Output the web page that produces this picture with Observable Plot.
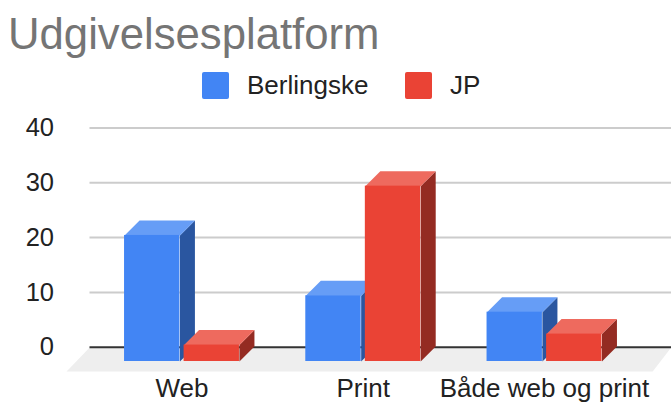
<!DOCTYPE html>
<html><head><meta charset="utf-8">
<script src="https://cdn.jsdelivr.net/npm/d3@7"></script>
<script src="https://cdn.jsdelivr.net/npm/@observablehq/plot@0.6"></script>
<style>
html,body{margin:0;padding:0;background:#fff;overflow:hidden}
body{width:671px;height:407px;font-family:"Liberation Sans",Arial,sans-serif}
#head{position:relative;height:104px}
#title{position:absolute;left:8px;top:9px;font-size:43.7px;line-height:50px;color:#757575;white-space:nowrap}
.sw{position:absolute;top:72px;width:27px;height:27px;border-radius:2px}
.lb{position:absolute;top:70px;font-size:26px;line-height:30px;color:#222;white-space:nowrap}
#chart svg{display:block}
</style></head><body>
<div id="head">
<div id="title">Udgivelsesplatform</div>
<div class="sw" style="left:202px;background:#4285f4"></div><div class="lb" style="left:247px">Berlingske</div>
<div class="sw" style="left:405px;background:#ea4335"></div><div class="lb" style="left:450px">JP</div>
</div>
<div id="chart"></div>
<script>
const categories = ["Web", "Print", "Både web og print"];
const berlingske = [23, 12, 9];
const jp = [3, 32, 5];
const yTicks = [0, 10, 20, 30, 40];
const seriesStyles = [
  {values: berlingske, front: "#4285f4", top: "#669df6", side: "#2a56a0", offset: -0.317},
  {values: jp, front: "#ea4335", top: "#ee6a5e", side: "#942b22", offset: 0.0115}
];
const barW = 0.3055, depthX = 0.0828, depthY = 2.74, frontY = 2.61;
const floorPts = [[-0.508, 0], [2.70, 0], [2.597, -4.43], [-0.637, -4.43]];

const poly = (pts, fill) => Plot.line(pts, {x: d => d[0], y: d => d[1], fill, stroke: "none"});
const bars = [];
categories.forEach((c, i) => seriesStyles.forEach(s => {
  const v = s.values[i], x0 = i + s.offset, x1 = x0 + barW, yb = -frontY, yt = v - frontY;
  bars.push(
    poly([[x1, yb], [x1 + depthX, yb + depthY], [x1 + depthX, yt + depthY], [x1, yt]], s.side),
    poly([[x0, yt], [x1, yt], [x1 + depthX, yt + depthY], [x0 + depthX, yt + depthY]], s.top),
    Plot.rect([v], {x1: () => x0, x2: () => x1, y1: () => yb, y2: () => yt, fill: s.front, inset: 0})
  );
}));

const plot = Plot.plot({
  width: 671, height: 303,
  marginTop: 23.5, marginBottom: 60.3, marginLeft: 89.5, marginRight: 0,
  x: {domain: [0, 2], range: [181.5, 544]},
  y: {domain: [0, 40]},
  style: {fontFamily: '"Liberation Sans",Arial,sans-serif', background: "#fff", overflow: "hidden"},
  marks: [
    Plot.ruleY(yTicks.slice(1), {stroke: "#cccccc", strokeWidth: 2}),
    poly(floorPts, "#eeeeee"),
    Plot.ruleY([0], {stroke: "#333333", strokeWidth: 2}),
    ...bars,
    Plot.axisY({ticks: yTicks, tickSize: 0, tickPadding: 36, fontSize: 25.5, color: "#222", label: null}),
    Plot.axisX({ticks: [0, 1, 2], tickFormat: i => categories[i], tickSize: 0, tickPadding: 31, fontSize: 26, color: "#222", label: null})
  ]
});
document.getElementById("chart").appendChild(plot);
</script>
</body></html>
